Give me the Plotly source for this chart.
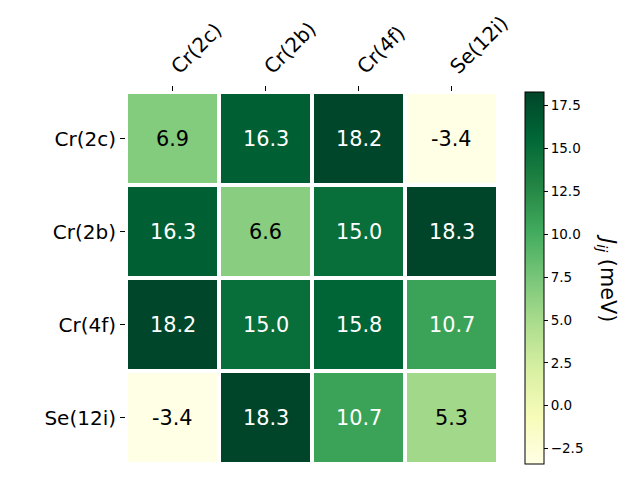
import plotly.graph_objects as go

labels = ["Cr(2c)", "Cr(2b)", "Cr(4f)", "Se(12i)"]
values = [
    [6.9, 16.3, 18.2, -3.4],
    [16.3, 6.6, 15.0, 18.3],
    [18.2, 15.0, 15.8, 10.7],
    [-3.4, 18.3, 10.7, 5.3],
]
cbar_ticks = [-2.5, 0.0, 2.5, 5.0, 7.5, 10.0, 12.5, 15.0, 17.5]

zmin = min(min(r) for r in values)
zmax = max(max(r) for r in values)
mid = (zmin + zmax) / 2

fig = go.Figure()
fig.add_trace(go.Heatmap(
    z=values, x=labels, y=labels,
    colorscale="YlGn", zmin=zmin, zmax=zmax,
    xgap=4, ygap=4,
    colorbar=dict(
        x=1.0726, xanchor="left", y=0.5, yanchor="middle", xpad=0, ypad=0,
        len=1.0, lenmode="fraction", thickness=19,
        outlinecolor="black", outlinewidth=1,
        tickvals=cbar_ticks, ticktext=[f"{t:.1f}".replace("-", "\u2212") for t in cbar_ticks],
        ticks="outside", ticklen=4, tickcolor="black",
        tickfont=dict(size=13.5, color="black", family="DejaVu Sans"),
    ),
    hoverinfo="skip",
))

annotations = []
for i, row in enumerate(values):
    for j, v in enumerate(row):
        annotations.append(dict(
            x=labels[j], y=labels[i], xref="x", yref="y",
            text=f"{v:.1f}",
            showarrow=False,
            font=dict(size=20.8, color="white" if v > mid else "black", family="DejaVu Sans"),
        ))
annotations.append(dict(
    x=1.293, y=0.5, xref="paper", yref="paper", xanchor="center", yanchor="middle",
    text="<i>J</i><sub><i>ij</i></sub> (meV)", showarrow=False, textangle=90,
    font=dict(size=20.8, color="black", family="DejaVu Sans"),
))

fig.update_layout(
    width=640, height=480,
    margin=dict(l=126, r=142, t=92, b=16, autoexpand=False),
    plot_bgcolor="white", paper_bgcolor="white",
    annotations=annotations,
    font=dict(family="DejaVu Sans", color="black"),
)
fig.update_xaxes(
    side="top", tickangle=-45, ticks="outside", ticklen=5, tickcolor="black",
    tickfont=dict(size=20, color="black"), showgrid=False, zeroline=False,
    automargin=False,
)
fig.update_yaxes(
    autorange="reversed", ticks="outside", ticklen=5, tickcolor="black",
    tickfont=dict(size=20, color="black"), showgrid=False, zeroline=False,
    automargin=False,
)

fig.write_html("out.html", config={"displayModeBar": False},
               post_script="document.body.style.margin='0';")
